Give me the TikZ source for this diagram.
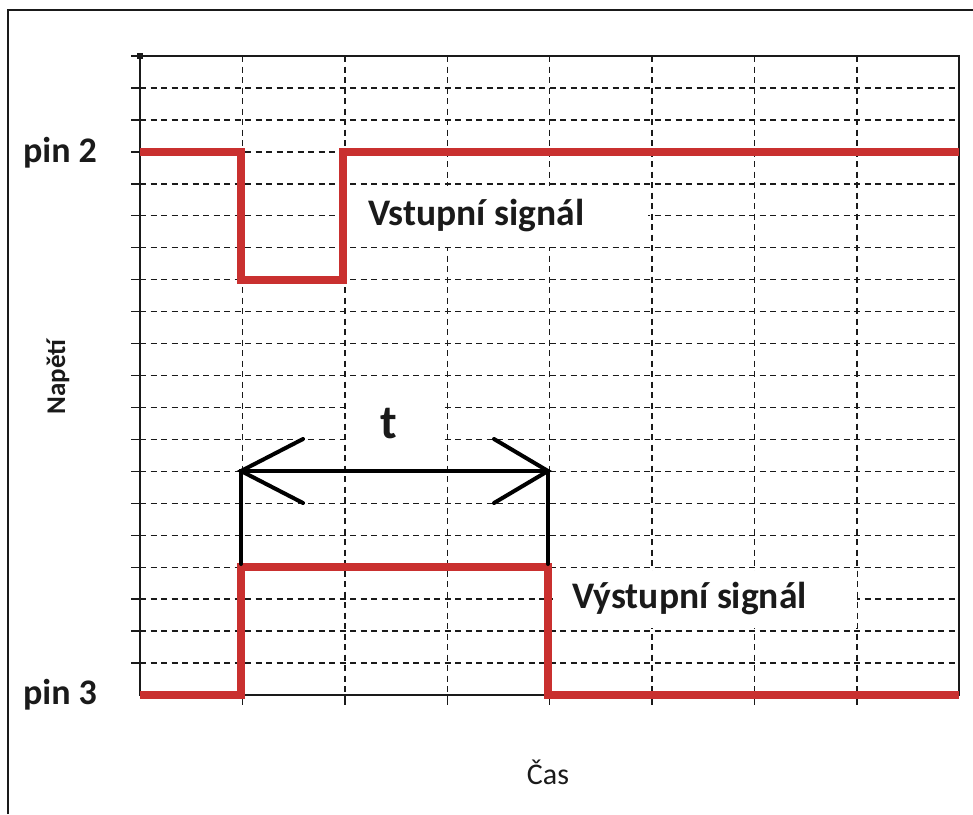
\documentclass[tikz,border=0pt]{standalone}
\usepackage{fontspec}
\setmainfont{Carlito}
\usetikzlibrary{positioning}
\definecolor{ink}{HTML}{1A1A1A}
\definecolor{sigred}{HTML}{C9302F}

\begin{document}
\begin{tikzpicture}[x=1pt,y=-1pt,
    gridline/.style={ink,line width=1.4pt,dash pattern=on 6pt off 4.5pt},
    axisline/.style={ink,line width=1.4pt},
    signal/.style={sigred,line width=8.5pt,line join=miter},
    dimline/.style={black,line width=4pt,line cap=round},
    label/.style={color=ink,font=\bfseries\fontsize{37.5}{37.5}\selectfont,inner sep=0pt}]
        \useasboundingbox (0,0) rectangle (973,814);
        % outer frame
        \draw[ink,line width=1.2pt] (8,814) -- (8,10) -- (973,10);
        % dashed grid
        \foreach \j in {1,...,19}
          \draw[gridline] (140,56+31.95*\j) -- (959,56+31.95*\j);
        \foreach \k in {1,...,7}
          \draw[gridline] (140+102.4*\k,56) -- (140+102.4*\k,695);
        % ticks
        \foreach \j in {0,...,19}
          \draw[axisline] (131,56+31.95*\j) -- (140,56+31.95*\j);
        \foreach \k in {1,...,7}
          \draw[axisline] (140+102.4*\k,695) -- (140+102.4*\k,705);
        \fill[ink] (137,53) rectangle (143,59);
        % white patches behind labels
        \fill[white] (348,186) rectangle (648,247);
        \fill[white] (346,393) rectangle (443,452);
        \fill[white] (553,571) rectangle (857,628);
        % plot frame
        \draw[axisline] (140,695) -- (140,56) -- (959,56) -- (959,695) -- cycle;
        % input signal
        \draw[signal] (140,152) -- (241,152) -- (241,280) -- (343,280) -- (343,152) -- (959,152);
        % output signal
        \draw[signal] (140,695) -- (241,695) -- (241,567) -- (548,567) -- (548,695) -- (959,695);
        % width t
        \coordinate (tleft) at (241,471);
        \coordinate (tright) at (548,471);
        \coordinate (tleftfoot) at (241,564);
        \coordinate (trightfoot) at (548,564);
        \draw[dimline] (tleftfoot) -- (tleft) -- (tright) -- (trightfoot);
        \draw[dimline] (303,439) -- (tleft) -- (303,503);
        \draw[dimline] (494,439) -- (tright) -- (494,503);
        \node[label,font=\bfseries\fontsize{48}{48}\selectfont] (tlabel) at (389,424) {t};
        % labels
        \node[label,font=\bfseries\fontsize{36}{36}\selectfont] (pin2) at (60,153) {pin 2};
        \node[label,font=\bfseries\fontsize{36}{36}\selectfont] (pin3) at (60,695) {pin 3};
        \node[label,anchor=west] (vstup) at (368,216) {Vstupní signál};
        \node[label,anchor=west] (vystup) at (572,599) {Výstupní signál};
        \node[color=ink,font=\fontsize{30}{30}\selectfont,inner sep=0pt] (cas) at (548,772) {Čas};
        \node[color=ink,font=\bfseries\fontsize{27}{27}\selectfont,inner sep=0pt,rotate=90] (napeti) at (58,377) {Napětí};
      \end{tikzpicture}
\end{document}
